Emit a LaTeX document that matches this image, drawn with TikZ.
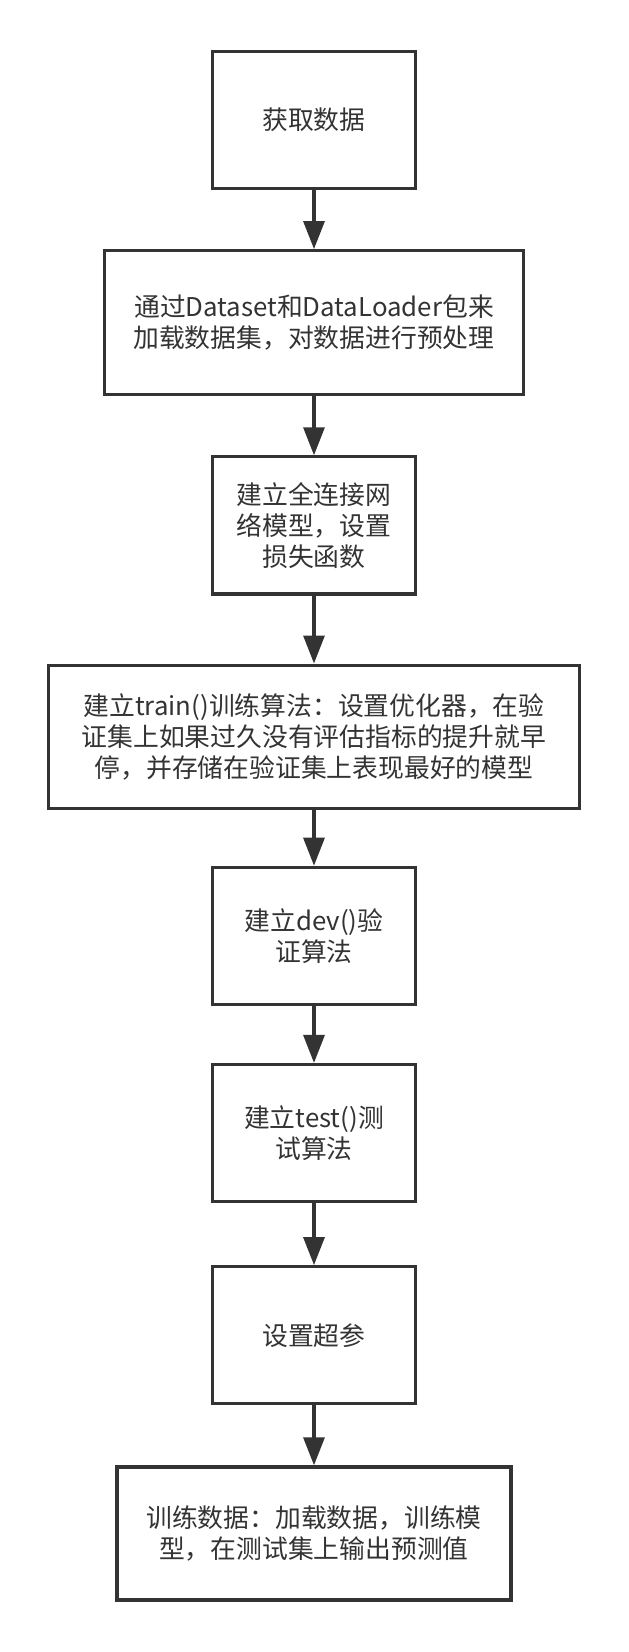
\documentclass[tikz,border=0pt]{standalone}
\usepackage{fontspec}
\setmainfont{Noto Sans CJK SC}
\usetikzlibrary{positioning, arrows.meta}
\definecolor{linegray}{HTML}{333333}

\begin{document}
\begin{tikzpicture}[
      node distance    = 29.5pt,
      every node/.style = {rectangle, draw=linegray, line width=1.6pt, text=linegray,
                           align=center, inner sep=0pt,
                           font=\fontsize{12.9pt}{15.5pt}\selectfont},
      smallbox/.style  = {minimum width=101.5pt, minimum height=68.5pt},
      flow/.style      = {draw=linegray, line width=1.6pt,
                          -{Triangle[length=14pt, width=10.5pt]}}
    ]
    \node[smallbox] (fetch) {获取数据};
    \node[below=of fetch, minimum width=209.5pt, minimum height=72pt] (load)
      {通过Dataset和DataLoader包来\\加载数据集，对数据进行预处理};
    \node[smallbox, below=of load] (model) {建立全连接网\\络模型，设置\\损失函数};
    \node[below=34pt of model, minimum width=265.5pt, minimum height=71.5pt] (train)
      {建立train()训练算法：设置优化器，在验\\证集上如果过久没有评估指标的提升就早\\停，并存储在验证集上表现最好的模型};
    \node[smallbox, below=28pt of train] (dev) {建立dev()验\\证算法};
    \node[smallbox, below=28.5pt of dev] (test) {建立test()测\\试算法};
    \node[smallbox, below=31pt of test] (hyper) {设置超参};
    \node[below=30pt of hyper, minimum width=197pt, minimum height=66.5pt] (run)
      {训练数据：加载数据，训练模\\型，在测试集上输出预测值};

    \foreach \a/\b in {fetch/load, load/model, model/train, train/dev,
                       dev/test, test/hyper, hyper/run}
      \draw[flow] (\a) -- (\b);

    \useasboundingbox ([xshift=-157pt, yshift=60pt]fetch.center)
      rectangle ([xshift=157pt, yshift=-766pt]fetch.center);
  \end{tikzpicture}
\end{document}
